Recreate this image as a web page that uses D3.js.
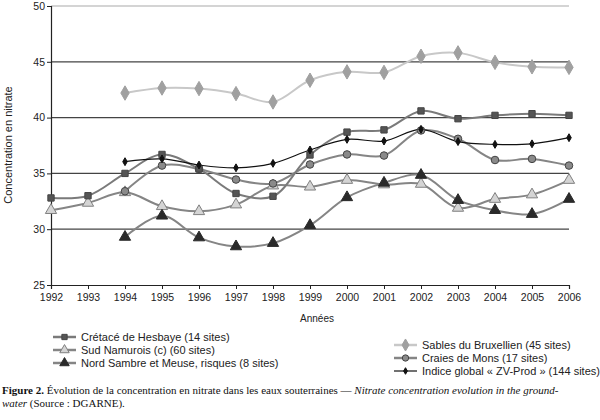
<!DOCTYPE html>
<html>
<head>
<meta charset="utf-8">
<script src="https://cdn.jsdelivr.net/npm/d3@7"></script>
<style>
  body { margin: 0; background: #fff; }
  svg { font-family: "Liberation Sans", Arial, sans-serif; }
</style>
</head>
<body>
<script>
var svg_width  = 600;
var svg_height = 420;

// years on the x axis
var years = [1992,1993,1994,1995,1996,1997,1998,1999,2000,2001,2002,2003,2004,2005,2006];
var yTicks = [25,30,35,40,45,50];

// series values (null = no data)
var cretace   = [32.8,33.0,35.0,36.7,35.4,33.2,32.95,36.65,38.7,38.9,40.6,39.9,40.2,40.35,40.2];
var sudNamur  = [31.7,32.35,33.3,32.05,31.6,32.2,33.9,33.8,34.4,34.0,34.05,31.9,32.7,33.1,34.4];
var nordSamb  = [null,null,29.3,31.2,29.25,28.45,28.75,30.35,32.85,34.15,34.85,32.6,31.7,31.35,32.7];
var sables    = [null,null,42.2,42.65,42.6,42.15,41.4,43.35,44.1,44.05,45.5,45.8,44.95,44.55,44.5];
var craies    = [null,null,33.4,35.7,35.4,34.45,34.1,35.8,36.7,36.6,38.85,38.1,36.2,36.3,35.7];
var indice    = [null,null,36.05,36.3,35.75,35.5,35.9,37.1,38.05,37.9,38.95,37.85,37.6,37.65,38.2];

var seriesNames = [
  "Crétacé de Hesbaye (14 sites)",
  "Sud Namurois (c) (60 sites)",
  "Nord Sambre et Meuse, risques (8 sites)",
  "Sables du Bruxellien (45 sites)",
  "Craies de Mons (17 sites)",
  "Indice global « ZV-Prod » (144 sites)"
];

var series = [
  {name: seriesNames[0], values: cretace,  line: "#7a7a7a", fill: "#555",    stroke: "#444", shape: "square",   size: 40},
  {name: seriesNames[1], values: sudNamur, line: "#858585", fill: "#d4d4d4", stroke: "#808080", shape: "triangle", size: 55},
  {name: seriesNames[2], values: nordSamb, line: "#858585", fill: "#2a2a2a", stroke: "#2a2a2a", shape: "triangle", size: 55},
  {name: seriesNames[3], values: sables,   line: "#c8c8c8", fill: "#a0a0a0", stroke: "#a0a0a0", shape: "diamond",  size: 60},
  {name: seriesNames[4], values: craies,   line: "#858585", fill: "#8a8a8a", stroke: "#444", shape: "circle",   size: 45},
  {name: seriesNames[5], values: indice,   line: "#111",    fill: "#111",    stroke: "#111", shape: "diamond",  size: 18}
];

var svg = d3.select('body').append('svg')
            .attr('width', svg_width)
            .attr('height', svg_height);

var x = d3.scaleLinear().domain([1992, 2006]).range([51, 569]);
var y = d3.scaleLinear().domain([25, 50]).range([285, 6]);

// gridlines
svg.append("g").selectAll("line")
   .data(yTicks.filter(t => t > 25))
   .enter().append("line")
   .attr("x1", x(1992)).attr("x2", x(2006))
   .attr("y1", d => y(d)).attr("y2", d => y(d))
   .attr("stroke", d => d == 50 ? "#aaa" : "#444")
   .attr("stroke-width", 1.2);

// axes
var yAxis = d3.axisLeft(y).tickValues(yTicks).tickSize(4).tickPadding(2).tickFormat(d3.format("d"));
var xAxis = d3.axisBottom(x).tickValues(years).tickSize(4).tickPadding(5).tickFormat(d3.format("d"));

var gy = svg.append("g").attr("transform", "translate(" + x(1992) + ",0)").call(yAxis);
var gx = svg.append("g").attr("transform", "translate(0," + y(25) + ")").call(xAxis);
[gy, gx].forEach(function(g){
  g.select(".domain").attr("stroke", "#222").attr("stroke-width", 1.2);
  g.selectAll(".tick line").attr("stroke", "#222");
  g.selectAll("text").attr("font-size", 10.5).attr("fill", "#222")
   .attr("font-family", "Liberation Sans, Arial, sans-serif");
});

svg.append("text")
   .attr("transform", "translate(12,145) rotate(-90)")
   .attr("text-anchor", "middle")
   .attr("font-size", 11).attr("fill", "#222")
   .text("Concentration en nitrate");

svg.append("text")
   .attr("x", 317).attr("y", 322)
   .attr("text-anchor", "middle")
   .attr("font-size", 10).attr("fill", "#222")
   .text("Années");

var shapeMap = {
  square: d3.symbolSquare,
  triangle: d3.symbolTriangle,
  diamond: d3.symbolDiamond,
  circle: d3.symbolCircle
};

var line = d3.line()
  .defined(d => d.v != null)
  .x(d => x(d.year))
  .y(d => y(d.v))
  .curve(d3.curveCatmullRom.alpha(0.5));

// draw order: back to front
var drawOrder = [3, 1, 2, 4, 0, 5];
drawOrder.forEach(function(i){
  var s = series[i];
  var pts = years.map((yr, k) => ({year: yr, v: s.values[k]})).filter(d => d.v != null);
  svg.append("path")
     .datum(pts)
     .attr("fill", "none")
     .attr("stroke", s.line)
     .attr("stroke-width", i == 5 ? 1.2 : 2)
     .attr("d", line);
});
drawOrder.forEach(function(i){
  var s = series[i];
  var pts = years.map((yr, k) => ({year: yr, v: s.values[k]})).filter(d => d.v != null);
  svg.append("g").selectAll("path")
     .data(pts)
     .enter().append("path")
     .attr("transform", d => "translate(" + x(d.year) + "," + y(d.v) + ")")
     .attr("d", d3.symbol().type(shapeMap[s.shape]).size(s.size))
     .attr("fill", s.fill)
     .attr("stroke", s.stroke)
     .attr("stroke-width", 1);
});

// legend
var legendPos = [
  {x: 53, y: 337}, {x: 53, y: 350}, {x: 53, y: 363},
  {x: 394, y: 345}, {x: 394, y: 358}, {x: 394, y: 371}
];
series.forEach(function(s, i){
  var p = legendPos[i];
  var g = svg.append("g").attr("transform", "translate(" + p.x + "," + p.y + ")");
  g.append("line").attr("x1", 0).attr("x2", 23).attr("y1", 0).attr("y2", 0)
   .attr("stroke", s.line).attr("stroke-width", i == 5 ? 1.2 : 2.5);
  g.append("path").attr("transform", "translate(11.5,0)")
   .attr("d", d3.symbol().type(shapeMap[s.shape]).size(s.size * 0.7))
   .attr("fill", s.fill).attr("stroke", s.stroke);
  g.append("text").attr("x", 28).attr("y", 4)
   .attr("font-size", 11).attr("fill", "#222")
   .text(s.name);
});

// caption
var cap = svg.append("text")
   .attr("x", 2).attr("y", 394)
   .attr("font-family", "Liberation Serif, Times New Roman, serif")
   .attr("font-size", 11).attr("fill", "#111");
cap.append("tspan").attr("font-weight", "bold").text("Figure 2. ");
cap.append("tspan").text("Évolution de la concentration en nitrate dans les eaux souterraines — ");
cap.append("tspan").attr("font-style", "italic").text("Nitrate concentration evolution in the ground-");
var cap2 = svg.append("text")
   .attr("x", 2).attr("y", 407)
   .attr("font-family", "Liberation Serif, Times New Roman, serif")
   .attr("font-size", 11).attr("fill", "#111");
cap2.append("tspan").attr("font-style", "italic").text("water");
cap2.append("tspan").text(" (Source : DGARNE).");
</script>
</body>
</html>
